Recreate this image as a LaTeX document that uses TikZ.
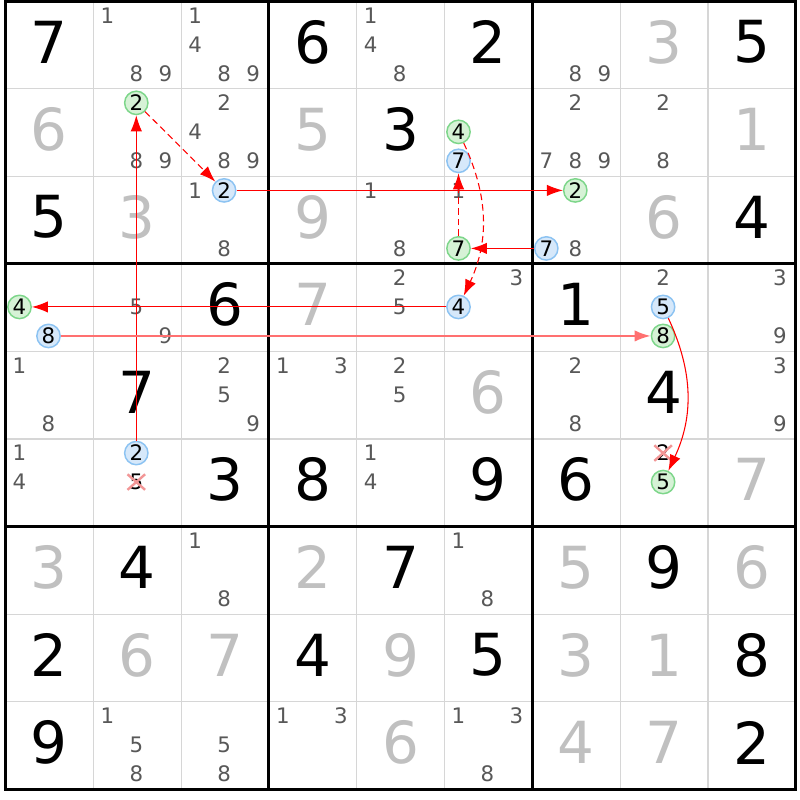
\documentclass[tikz,border=0pt]{standalone}
\usepackage{fontspec}
\setmainfont{DejaVu Sans}
\usetikzlibrary{arrows.meta,shapes.misc}
\definecolor{solvedgray}{RGB}{192,192,192}
\definecolor{candgray}{RGB}{88,88,88}
\definecolor{gridgray}{RGB}{214,214,214}
\definecolor{gfill}{RGB}{214,242,214}
\definecolor{gdraw}{RGB}{125,214,138}
\definecolor{bfill}{RGB}{214,232,250}
\definecolor{bdraw}{RGB}{140,195,242}
\definecolor{lnred}{RGB}{255,0,0}
\definecolor{lnpink}{RGB}{255,112,112}
\definecolor{xpink}{RGB}{242,150,150}
\newcommand\givenD[3]{\node[given] (v#1#2) at ({5.5+87.8*(#2-0.5)},{1.3+87.55*(#1-0.5)-3}) {#3};}
\newcommand\solvedD[3]{\node[solved] (v#1#2) at ({5.5+87.8*(#2-0.5)},{1.3+87.55*(#1-0.5)-3}) {#3};}
\newcommand\pc[4][cand]{\node[#1] (c#2#3-#4) at ({5.5+87.8*(#3-1)+14+29*mod(#4-1,3)},{1.3+87.55*(#2-1)+14+29*floor((#4-1)/3)}) {#4};}
\newcommand\cands[3]{\foreach \d in {#3} {\pc{#1}{#2}{\d}}}
\begin{document}
\begin{tikzpicture}[x=0.75pt,y=-0.75pt,
  given/.style={inner sep=0pt,text=black,font=\fontsize{43.5}{43.5}\selectfont},
  solved/.style={inner sep=0pt,text=solvedgray,font=\fontsize{43.5}{43.5}\selectfont},
  cand/.style={inner sep=0pt,text=candgray,font=\fontsize{16}{16}\selectfont},
  circG/.style={circle,inner sep=0pt,minimum size=17.5pt,draw=gdraw,fill=gfill,line width=1.1pt,text=black,font=\fontsize{16}{16}\selectfont},
  circB/.style={circle,inner sep=0pt,minimum size=17.5pt,draw=bdraw,fill=bfill,line width=1.1pt,text=black,font=\fontsize{16}{16}\selectfont},
  elim/.style={cross out,draw=xpink,line width=1.8pt,inner xsep=0.6pt,inner ysep=-1pt,text=black,font=\fontsize{16}{16}\selectfont},
  thingrid/.style={draw=gridgray,line width=0.9pt},
  thickgrid/.style={draw=black,line width=2.3pt},
  rl/.style={draw=lnred,line width=0.8pt,-{Latex[length=12pt,width=8.5pt]}},
  rlb/.style={draw=lnpink,line width=1.5pt,-{Latex[length=12pt,width=8.5pt]}},
  dashline/.style={dash pattern=on 5pt off 3pt}]
\path[use as bounding box,fill=white] (0,0) rectangle (800,800);
% grid
\foreach \k in {1,2,4,5,7,8} {
  \draw[thingrid] ({5.5+87.8*\k},1.3) -- ({5.5+87.8*\k},789.25);
  \draw[thingrid] (5.5,{1.3+87.55*\k}) -- (795.7,{1.3+87.55*\k});
}
\foreach \k in {3,6} {
  \draw[thickgrid] ({5.5+87.8*\k},1.3) -- ({5.5+87.8*\k},789.25);
  \draw[thickgrid] (5.5,{1.3+87.55*\k}) -- (795.7,{1.3+87.55*\k});
}
\draw[thickgrid] (5.5,1.3) rectangle (795.7,789.25);
% row 1
\givenD{1}{1}{7} \cands{1}{2}{1,8,9} \cands{1}{3}{1,4,8,9} \givenD{1}{4}{6}
\cands{1}{5}{1,4,8} \givenD{1}{6}{2} \cands{1}{7}{8,9} \solvedD{1}{8}{3} \givenD{1}{9}{5}
% row 2
\solvedD{2}{1}{6} \pc[circG]{2}{2}{2} \cands{2}{2}{8,9} \cands{2}{3}{2,4,8,9}
\solvedD{2}{4}{5} \givenD{2}{5}{3} \pc[circG]{2}{6}{4} \pc[circB]{2}{6}{7}
\cands{2}{7}{2,7,8,9} \cands{2}{8}{2,8} \solvedD{2}{9}{1}
% row 3
\givenD{3}{1}{5} \solvedD{3}{2}{3} \cands{3}{3}{1,8} \pc[circB]{3}{3}{2}
\solvedD{3}{4}{9} \cands{3}{5}{1,8} \cands{3}{6}{1} \pc[circG]{3}{6}{7}
\pc[circG]{3}{7}{2} \pc[circB]{3}{7}{7} \cands{3}{7}{8} \solvedD{3}{8}{6} \givenD{3}{9}{4}
% row 4
\pc[circG]{4}{1}{4} \pc[circB]{4}{1}{8} \cands{4}{2}{5,9} \givenD{4}{3}{6}
\solvedD{4}{4}{7} \cands{4}{5}{2,5} \cands{4}{6}{3} \pc[circB]{4}{6}{4}
\givenD{4}{7}{1} \cands{4}{8}{2} \pc[circB]{4}{8}{5} \pc[circG]{4}{8}{8} \cands{4}{9}{3,9}
% row 5
\cands{5}{1}{1,8} \givenD{5}{2}{7} \cands{5}{3}{2,5,9} \cands{5}{4}{1,3}
\cands{5}{5}{2,5} \solvedD{5}{6}{6} \cands{5}{7}{2,8} \givenD{5}{8}{4} \cands{5}{9}{3,9}
% row 6
\cands{6}{1}{1,4} \pc[circB]{6}{2}{2} \pc[elim]{6}{2}{5} \givenD{6}{3}{3}
\givenD{6}{4}{8} \cands{6}{5}{1,4} \givenD{6}{6}{9} \givenD{6}{7}{6}
\pc[elim]{6}{8}{2} \pc[circG]{6}{8}{5} \solvedD{6}{9}{7}
% row 7
\solvedD{7}{1}{3} \givenD{7}{2}{4} \cands{7}{3}{1,8} \solvedD{7}{4}{2}
\givenD{7}{5}{7} \cands{7}{6}{1,8} \solvedD{7}{7}{5} \givenD{7}{8}{9} \solvedD{7}{9}{6}
% row 8
\givenD{8}{1}{2} \solvedD{8}{2}{6} \solvedD{8}{3}{7} \givenD{8}{4}{4}
\solvedD{8}{5}{9} \givenD{8}{6}{5} \solvedD{8}{7}{3} \solvedD{8}{8}{1} \givenD{8}{9}{8}
% row 9
\givenD{9}{1}{9} \cands{9}{2}{1,5,8} \cands{9}{3}{5,8} \cands{9}{4}{1,3}
\solvedD{9}{5}{6} \cands{9}{6}{1,3,8} \solvedD{9}{7}{4} \solvedD{9}{8}{7} \givenD{9}{9}{2}
% chain
\draw[rl] (c62-2) -- (c22-2);
\draw[rl,dashline] (c22-2) -- (c33-2);
\draw[rl] (c33-2) -- (c37-2);
\draw[rl] (c37-7) -- (c36-7);
\draw[rl,dashline] (c36-7) -- (c26-7);
\draw[rl,dashline] (c26-4) to[bend left=25] (c46-4);
\draw[rl] (c46-4) -- (c41-4);
\draw[rlb] (c41-8) -- (c48-8);
\draw[rl] (c48-5) to[bend left=25] (c68-5);
\end{tikzpicture}
\end{document}
